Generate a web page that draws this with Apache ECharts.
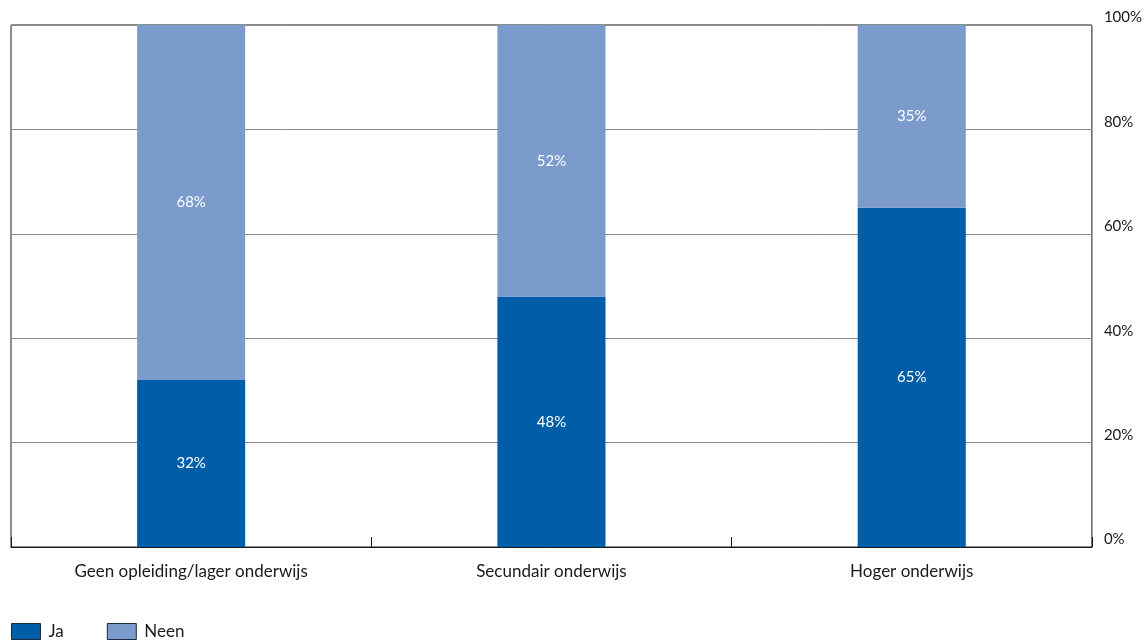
<!DOCTYPE html>
<html>
<head>
<meta charset="utf-8">
<script src="https://cdn.jsdelivr.net/npm/echarts@6/dist/echarts.min.js"></script>
<style>
  html, body { margin: 0; padding: 0; background: #fff; }
  #chart { width: 1145px; height: 643px; }
</style>
</head>
<body>
<div id="chart"></div>
<script>
// Education level categories and the share answering yes / no (%)
const categories = ['Geen opleiding/lager onderwijs', 'Secundair onderwijs', 'Hoger onderwijs'];
const jaValues = [32, 48, 65];
const neenValues = [68, 52, 35];
const yTicks = [0, 20, 40, 60, 80, 100];

const FONT = 'Lato, "Open Sans", sans-serif';
const JA_COLOR = '#005ea8';
const NEEN_COLOR = '#7b9bcc';
const SWATCH_BORDER = '#1a2a40';

const chart = echarts.init(document.getElementById('chart'), null, { renderer: 'canvas' });

const segmentLabel = {
  show: true,
  position: 'inside',
  color: '#ffffff',
  fontFamily: FONT,
  fontSize: 15,
  formatter: p => p.value + '%'
};

chart.setOption({
  animation: false,
  grid: {
    left: 11, right: 52, top: 25, bottom: 96,
    show: true, borderColor: '#1a1a1a', borderWidth: 1, backgroundColor: 'transparent'
  },
  legend: {
    left: 11, top: 623, padding: 0,
    icon: 'rect',
    itemWidth: 29, itemHeight: 16, itemGap: 43,
    itemStyle: { borderColor: SWATCH_BORDER, borderWidth: 1 },
    textStyle: { fontFamily: FONT, fontSize: 17, color: '#1a1a1a', padding: [6, 0, 0, 3] },
    data: [
      { name: 'Ja', itemStyle: { color: JA_COLOR, borderColor: SWATCH_BORDER, borderWidth: 1 } },
      { name: 'Neen', itemStyle: { color: NEEN_COLOR, borderColor: SWATCH_BORDER, borderWidth: 1 } }
    ]
  },
  xAxis: {
    type: 'category',
    data: categories,
    axisLine: { lineStyle: { color: '#1a1a1a', width: 1 } },
    axisTick: { show: true, inside: true, length: 10, lineStyle: { color: '#1a1a1a' } },
    axisLabel: { margin: 16, fontFamily: FONT, fontSize: 17, color: '#1a1a1a' }
  },
  yAxis: {
    type: 'value',
    position: 'right',
    min: yTicks[0], max: yTicks[yTicks.length - 1], interval: 20,
    axisLine: { show: false },
    axisTick: { show: false },
    splitLine: { lineStyle: { color: '#8a8a8a', width: 1 } },
    axisLabel: {
      margin: 12,
      verticalAlign: 'bottom',
      fontFamily: FONT, fontSize: 15, color: '#1a1a1a',
      formatter: v => v + '%'
    }
  },
  series: [
    {
      name: 'Ja', type: 'bar', stack: 'total', barWidth: '30%',
      data: jaValues,
      itemStyle: { color: JA_COLOR },
      label: segmentLabel
    },
    {
      name: 'Neen', type: 'bar', stack: 'total', barWidth: '30%',
      data: neenValues,
      itemStyle: { color: NEEN_COLOR },
      label: segmentLabel
    }
  ]
});
</script>
</body>
</html>
